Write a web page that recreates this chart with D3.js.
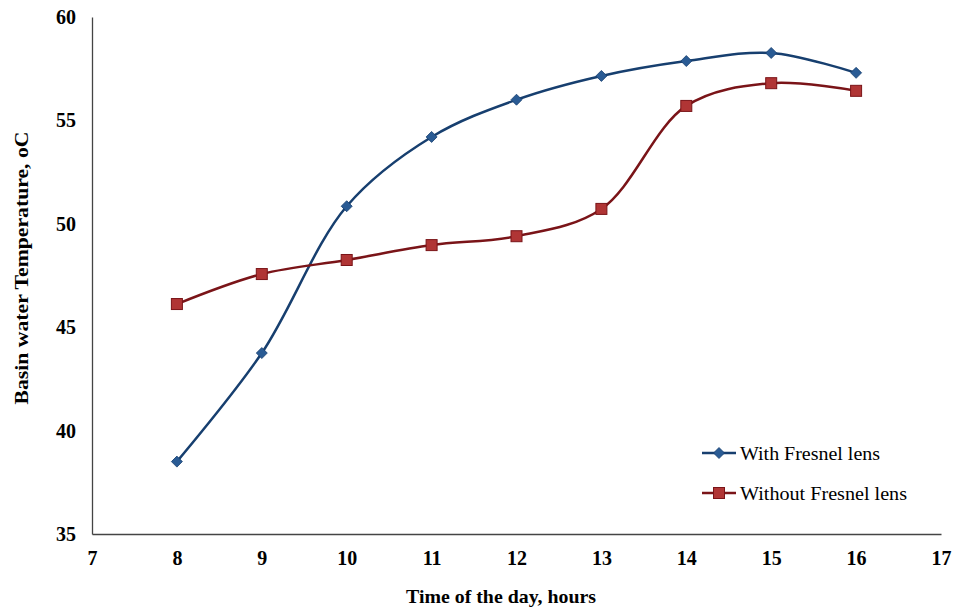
<!DOCTYPE html>
<html>
<head>
<meta charset="utf-8">
<script src="https://cdn.jsdelivr.net/npm/d3@7"></script>
<style>
  body { margin: 0; background: #fff; }
  svg { display: block; font-family: "Liberation Serif", "Times New Roman", serif; }
</style>
</head>
<body>
<svg id="chart" width="954" height="614"></svg>
<script>
// Data
const hours = [8, 9, 10, 11, 12, 13, 14, 15, 16];
const withLens = [38.5, 43.75, 50.85, 54.2, 56.0, 57.15, 57.87, 58.26, 57.3];
const withoutLens = [46.12, 47.57, 48.25, 48.97, 49.4, 50.72, 55.7, 56.8, 56.43];
const xTicks = [7, 8, 9, 10, 11, 12, 13, 14, 15, 16, 17];
const yTicks = [35, 40, 45, 50, 55, 60];

const width = 954, height = 614;
const margin = { top: 17, right: 13, bottom: 80, left: 92 };

const $svg = d3.select("#chart");

const x = d3.scaleLinear()
    .domain([7, 17])
    .range([margin.left, width - margin.right]);
const y = d3.scaleLinear()
    .domain([35, 60])
    .range([height - margin.bottom, margin.top]);

// Axes
const xAxis = d3.axisBottom(x).tickValues(xTicks).tickSize(0).tickPadding(17).tickFormat(d3.format("d"));
const yAxis = d3.axisLeft(y).tickValues(yTicks).tickSize(0).tickPadding(16).tickFormat(d3.format("d"));

const $xAxis = $svg.append("g")
    .attr("transform", `translate(0,${height - margin.bottom})`)
    .call(xAxis);
const $yAxis = $svg.append("g")
    .attr("transform", `translate(${margin.left},0)`)
    .call(yAxis);

[$xAxis, $yAxis].forEach($a => {
    $a.select(".domain").attr("stroke", "#444").attr("stroke-width", 1.3);
    $a.selectAll("text")
      .attr("font-family", "Liberation Serif, Times New Roman, serif")
      .attr("font-size", 20)
      .attr("font-weight", "bold")
      .attr("fill", "#000");
});

// Axis titles
$svg.append("text")
    .attr("x", 501)
    .attr("y", 603)
    .attr("text-anchor", "middle")
    .attr("font-size", 19)
    .attr("font-weight", "bold")
    .attr("textLength", 190)
    .attr("lengthAdjust", "spacingAndGlyphs")
    .text("Time of the day, hours");

$svg.append("text")
    .attr("transform", "translate(28,268) rotate(-90)")
    .attr("text-anchor", "middle")
    .attr("font-size", 19)
    .attr("font-weight", "bold")
    .attr("textLength", 273)
    .attr("lengthAdjust", "spacingAndGlyphs")
    .text("Basin water Temperature, oC");

// Series
const series = [
    { name: "With Fresnel lens", values: withLens, line: "#173f6f", fill: "#2a5b94", shape: "diamond", labelLen: 140 },
    { name: "Without Fresnel lens", values: withoutLens, line: "#7a1418", fill: "#b03535", shape: "square", labelLen: 167 },
];

const line = d3.line()
    .x(d => x(d[0]))
    .y(d => y(d[1]))
    .curve(d3.curveCatmullRom.alpha(0.5));

function drawMarker(sel, s) {
    if (s.shape === "diamond") {
        sel.append("path")
          .attr("d", "M0,-5.5L5.5,0L0,5.5L-5.5,0Z")
          .attr("fill", s.fill)
          .attr("stroke", s.line)
          .attr("stroke-width", 0.8);
    } else {
        sel.append("rect")
          .attr("x", -5.5).attr("y", -5.5)
          .attr("width", 11).attr("height", 11)
          .attr("fill", s.fill)
          .attr("stroke", s.line)
          .attr("stroke-width", 1);
    }
}

series.forEach(s => {
    const pts = hours.map((h, i) => [h, s.values[i]]);
    $svg.append("path")
        .attr("d", line(pts))
        .attr("fill", "none")
        .attr("stroke", s.line)
        .attr("stroke-width", 2.5);
    $svg.append("g")
      .selectAll("g")
      .data(pts)
      .join("g")
        .attr("transform", d => `translate(${x(d[0])},${y(d[1])})`)
        .each(function () { drawMarker(d3.select(this), s); });
});

// Legend
const $legend = $svg.append("g").attr("transform", "translate(702,453)");
series.forEach((s, i) => {
    const $row = $legend.append("g").attr("transform", `translate(0,${i * 40})`);
    $row.append("line")
        .attr("x1", 0).attr("x2", 34)
        .attr("stroke", s.line).attr("stroke-width", 2.5);
    drawMarker($row.append("g").attr("transform", "translate(17,0)"), s);
    $row.append("text")
        .attr("x", 38)
        .attr("dy", "0.35em")
        .attr("font-size", 19)
        .attr("textLength", s.labelLen)
        .attr("lengthAdjust", "spacingAndGlyphs")
        .text(s.name);
});
</script>
</body>
</html>
